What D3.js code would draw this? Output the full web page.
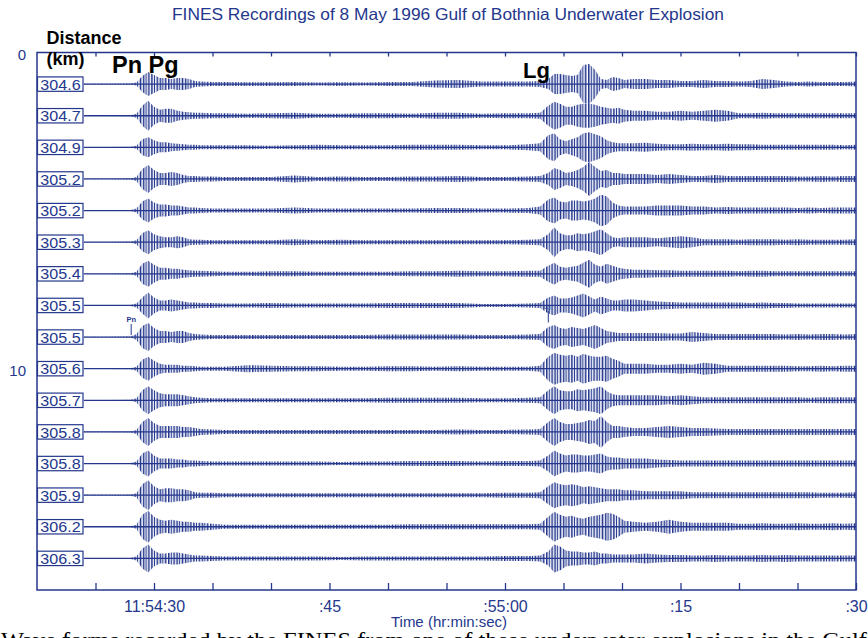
<!DOCTYPE html>
<html><head><meta charset="utf-8">
<script src="https://cdn.jsdelivr.net/npm/d3@7"></script>
<style>html,body{margin:0;padding:0;background:#fff;overflow:hidden;} svg{display:block;}</style>
</head><body>
<svg id="chart" width="868" height="638"></svg>
<script>
// ---------------- DATA ----------------
// epicentral distance (km) of each trace, top to bottom
const distances = ["304.6","304.7","304.9","305.2","305.2","305.3","305.4","305.5",
                   "305.5","305.6","305.7","305.8","305.8","305.9","306.2","306.3"];
// sample times (seconds after 11:54:00) at which the trace amplitude envelope was read
const times = [24,26,28,
  28.5,29,29.5,30,30.5,31,31.5,32,32.5,33,33.5,34,35,
  36,38,40,42,44,46,48,50,52,54,56,58,60,62,
  63,63.7,64.2,64.7,65.2,65.7,66.2,66.7,67.2,67.7,68.2,68.7,69.2,69.7,70.2,
  71,72,73,74,75,76,77,78,79,80,81,82,83,84,85,86,87,88,89,90];
// amplitude envelope (half peak-to-peak, px-equivalent counts) of each trace
const trace01 = [0.3,0.3,0.5, 1.5,8,12,9,6,6,5,6,6,5,3,2.5,2, 2,1.8,1.8,2,1.5,1.8,1.5,2,2,3.5,4,2.5,2.5,2.5, 3,5,10,10,9,8,9,19,20,14,5,4,7,6,4, 5,5,4,4,3,3,4,3,3,2.5,3,5,4,2.5,2,2.5,2,2,2,2.5];
const trace02 = [0.3,0.3,0.5, 2,10,15,9,6,7,7,5,4,3.5,3,3,2.5, 2.5,2,2.5,3,2,2,2.5,2.5,2,3,3,2,2.5,2.5, 3,10,14,12,9,9,11,12,12,11,9,8,7,8,6, 5,5,4,4,5,4,5,6,5,2.5,2.5,3,2.5,2.5,2.5,2.5,2.5,2.5,2.5,2.5];
const trace03 = [0.3,0.3,0.5, 1.5,8,10,7,5,5,4,3.5,3,2.5,2.5,2,2, 2,2,1.5,2,2.5,2,2,2,2.5,2.5,2.5,2,2,3, 4,12,14,8,6,8,10,14,15,13,11,7,5,4,4, 4,4.5,3.5,3,3,3.5,3,3,3.5,3,3,2.5,2.5,2.5,2.5,2.5,2.5,2.5,2,2.5];
const trace04 = [0.3,0.3,0.5, 2,10,14,9,6,6,7,6,4,3,3,2.5,2.5, 2,2,2,3.5,2,2.5,2,2,2.5,2.5,3,2,2,2.5, 3,6,11,9,6,7,9,12,17,12,8,9,6,6,5, 5,5,4,5,4,3,3,4,3,3,3,3,3,3,2.5,2.5,3,2.5,3,3];
const trace05 = [0.3,0.3,0.5, 2,9,12,8,6,6,5,5,4,3,3,2.5,2, 2,2,2,3,2,2,2,2,2,2.5,2.5,2,2,2.5, 4,11,13,9,8,10,10,9,10,12,16,14,8,5,4, 4,4,5,5,5,4,4,3,3.5,3,3,3,3,3,2.5,3,2.5,3,3,3];
const trace06 = [0.3,0.3,0.5, 2,9,12,8,6,5,5,6,5,3,2.5,2.5,2, 2,2,2,3,2,2.5,2,2,2,2,2,2,2,2.5, 3,8,15,9,7,7,9,8,9,11,13,9,5,4,5, 5,5,4,5,6,5,3,3,3,2.5,3,3,3,2.5,3,2.5,2.5,2.5,2.5,3];
const trace07 = [0.3,0.3,0.5, 2,10,13,9,6,6,5,5,4,3.5,3,3,2.5, 2,2,2.5,2.5,2,2,2,2,2.5,2.5,3,2.5,2.5,3, 3,8,11,7,6,7,8,11,14,9,7,10,8,6,5, 4,4,3.5,3.5,3,3,3,3,3,2.5,3,3,2.5,2.5,2.5,2.5,2.5,2.5,2.5,2.5];
const trace08 = [0.3,0.3,0.5, 2,8,13,8,5,5,6,5,4,3,3,2.5,2.5, 2,2,2.5,2,2,2,2,2.5,2.5,2.5,2.5,1.5,1.5,2, 2.5,8,10,7,7,8,10,12,9,6,9,7,5,5,6, 6,5,4,3.5,3,3,3,3,3,3,2.5,3,2.5,2.5,2,2,2,2,2,2];
const trace09 = [0.3,0.3,0.5, 3,11,14,9,6,6,5,6,6,4,3,2.5,2, 2,2,2,2,2,2,2,2.5,2.5,2.5,2.5,2,2,2.5, 3,10,12,9,8,10,9,8,10,12,9,6,5,4,4, 4,4,4,3.5,3.5,5,4,3,3,3,3,3,3,2.5,3,2.5,3,3,2.5,3];
const trace10 = [0.3,0.3,0.5, 2,9,12,8,5,4,4,4,3,3,2.5,2,2, 2,3.5,3,2.5,2.5,2,2,2.5,2.5,2,2.5,2,2,2, 3,12,16,14,13,14,12,15,13,12,12,13,10,8,5, 5,5,4,4,5,4,6,5,3,3,3,3,3,3,2.5,2.5,3,2.5,3,3];
const trace11 = [0.3,0.3,0.5, 2,10,14,10,7,6,6,6,5,4,3,2.5,2, 2,2,2,2,2,2,2,2.5,2.5,2.5,2.5,2,2,2.5, 3,10,14,10,9,9,11,10,11,12,14,9,6,5,5, 5,5,5,4,5,4,3,3,3,3,3,3,3,3,3,2.5,3,3,3,3];
const trace12 = [0.3,0.3,0.5, 2,10,14,9,6,6,6,6,5,5,4,3,2.5, 2,2,2,2,2,2,2,2,2,2,2.5,2,2,2.5, 3,10,14,10,8,8,9,10,12,11,16,10,6,6,5, 4,4,5,6,5,4,4,3.5,3,3,3,3,3,3,3,3,3,3,3,3];
const trace13 = [0.3,0.3,0.5, 2,10,13,8,5,5,5,4,4,3,3,2.5,2, 2,2,2,2,2,1.5,2,2,2.5,2.5,2.5,2,2.5,2.5, 3,8,13,10,8,9,9,8,8,9,10,7,6,6,5, 5,5,4,3.5,3,3,3,3,3,3,3,3,3,3,3,3,3,3,3,3];
const trace14 = [0.3,0.3,0.5, 2,11,15,9,6,7,7,6,6,5,3,2.5,2.5, 2,2,2,2,2,2,2,2,2,2,2,2,2.5,2.5, 3,9,13,11,10,11,10,8,9,8,7,6,6,6,5, 5,4,4,4,4,3,3,3,3,3,3,3,3,3,3,3,2.5,2.5,2.5,3];
const trace15 = [0.3,0.3,0.5, 2,12,16,10,7,6,7,6,5,5,4,4,3, 2,2,2,2,2,2,2,2,2.5,2.5,2.5,2.5,2.5,2.5, 3,10,15,12,10,11,9,8,10,11,12,14,13,10,6, 5,4,5,7,5,4,4,4,4,3,3,3.5,3,3,3.5,3,3,3.5,3,3.5];
const trace16 = [0.3,0.3,0.5, 2,10,14,8,5,5,6,6,5,4,3,3,2.5, 2,2,2,2,2,1.5,2,2,2,2,2,2,2.5,2.5, 3,7,14,12,8,7,7,6,6,7,5,5,4,4,4, 4,5,4,3.5,3.5,3,3,3.5,3,3,3,3.5,3,3.5,3,3,3,3,3,3];
const traces = [trace01,trace02,trace03,trace04,trace05,trace06,trace07,trace08,
                trace09,trace10,trace11,trace12,trace13,trace14,trace15,trace16];
// time axis (seconds after 11:54:00)
const majorTicks = [30, 45, 60, 75, 90];
const majorTickLabels = ["11:54:30", ":45", ":55:00", ":15", ":30"];
const minorTicks = [25, 35, 40, 50, 55, 65, 70, 80, 85];
// distance axis (trace order)
const distanceTicks = [0, 10];
// small phase picks drawn on traces: [label, trace number, time]
const picks = [["Pn", 9, 28.05], ["Lg", 8, 63.7]];

// ---------------- DRAW ----------------
const BLUE = "#24378d";
const svg = d3.select("#chart");
const x = d3.scaleLinear().domain([20, 90]).range([37, 856]);
const y = d3.scaleLinear().domain([0, 17]).range([52.5, 590]);
const amp = d3.scaleLinear().domain([0, 20]).range([0, 20]);

const defs = svg.append("defs");
// irregular vertical hatching used as the texture of the wiggle envelope
const pat = defs.append("pattern").attr("id", "wig").attr("patternUnits", "userSpaceOnUse")
  .attr("width", 8.4).attr("height", 60);
[[0, 1.5], [2.7, 1.1], [5.3, 1.6]].forEach(s =>
  pat.append("rect").attr("x", s[0]).attr("y", 0).attr("width", s[1]).attr("height", 60).attr("fill", BLUE));
defs.append("clipPath").attr("id", "plotclip").append("rect")
  .attr("x", 37).attr("y", 40).attr("width", 819).attr("height", 560);

// title
svg.append("text").attr("x", 448).attr("y", 19.5).attr("text-anchor", "middle")
  .attr("font-family", "Liberation Sans, Arial, sans-serif").attr("font-size", 16.5)
  .attr("fill", BLUE).attr("textLength", 552).attr("lengthAdjust", "spacingAndGlyphs")
  .text("FINES Recordings of 8 May 1996 Gulf of Bothnia Underwater Explosion");

// traces
const g = svg.append("g").attr("clip-path", "url(#plotclip)");
traces.forEach((arr, i) => {
  const cy = y(i + 1);
  const pts = times.map((t, j) => ({ t: t, a: arr[j] }));
  const area = d3.area().x(d => x(d.t)).y0(d => cy + amp(d.a)).y1(d => cy - amp(d.a));
  g.append("path").attr("d", area(pts)).attr("fill", "url(#wig)");
  const line = d3.line().x(d => x(d.t)).y(() => cy);
  g.append("path").attr("d", line(pts)).attr("fill", "none").attr("stroke", BLUE).attr("stroke-width", 1.3);
});

// frame
svg.append("rect").attr("x", x(20)).attr("y", y(0)).attr("width", x(90) - x(20)).attr("height", y(17) - y(0))
  .attr("fill", "none").attr("stroke", BLUE).attr("stroke-width", 1.5);

// bottom axis
const axB = svg.append("g").attr("transform", `translate(0,${y(17)})`)
  .call(d3.axisBottom(x).tickValues(majorTicks).tickSize(-7).tickPadding(11)
        .tickFormat((d, i) => majorTickLabels[i]));
const axBm = svg.append("g").attr("transform", `translate(0,${y(17)})`)
  .call(d3.axisBottom(x).tickValues(minorTicks).tickSize(-7).tickFormat(""));
const axT = svg.append("g").attr("transform", `translate(0,${y(0)})`)
  .call(d3.axisTop(x).tickValues(majorTicks.concat(minorTicks)).tickSize(-4).tickFormat(""));
const axL = svg.append("g").attr("transform", `translate(${x(20)},0)`)
  .call(d3.axisLeft(y).tickValues(distanceTicks).tickSize(0).tickPadding(11));
[axB, axBm, axT, axL].forEach(a => {
  a.select(".domain").remove();
  a.selectAll("line").attr("stroke", BLUE).attr("stroke-width", 1.3);
  a.selectAll("text").attr("fill", BLUE).attr("font-family", "Liberation Sans, Arial, sans-serif");
});
axB.selectAll("text").attr("font-size", 16);
axL.selectAll("text").attr("font-size", 15).attr("dy", "0.45em");

// axis title
svg.append("text").attr("x", 449).attr("y", 626.5).attr("text-anchor", "middle")
  .attr("font-family", "Liberation Sans, Arial, sans-serif").attr("font-size", 15)
  .attr("fill", BLUE).text("Time (hr:min:sec)");

// distance label boxes
distances.forEach((d, i) => {
  const cy = y(i + 1);
  svg.append("rect").attr("x", 37.5).attr("y", cy - 7.2).attr("width", 45.5).attr("height", 14.4)
    .attr("fill", "#fff").attr("stroke", BLUE).attr("stroke-width", 1.2);
  svg.append("text").attr("x", 40.3).attr("y", cy + 5.6)
    .attr("font-family", "Liberation Sans, Arial, sans-serif").attr("font-size", 15)
    .attr("fill", BLUE).attr("textLength", 40.3).attr("lengthAdjust", "spacingAndGlyphs").text(d);
});

// small phase picks
picks.forEach(p => {
  const px = x(p[2]), cy = y(p[1]);
  if (p[0] === "Pn") {
    svg.append("line").attr("x1", px).attr("x2", px).attr("y1", cy - 13).attr("y2", cy - 2)
      .attr("stroke", BLUE).attr("stroke-width", 1);
    svg.append("text").attr("x", px).attr("y", cy - 15.5).attr("text-anchor", "middle")
      .attr("font-family", "Liberation Sans, Arial, sans-serif").attr("font-size", 7.5).attr("font-weight", "bold")
      .attr("fill", BLUE).text(p[0]);
  } else {
    svg.append("line").attr("x1", px).attr("x2", px).attr("y1", cy + 5).attr("y2", cy + 17)
      .attr("stroke", BLUE).attr("stroke-width", 1);
    svg.append("text").attr("x", px - 1).attr("y", cy + 4).attr("text-anchor", "middle")
      .attr("font-family", "Liberation Sans, Arial, sans-serif").attr("font-size", 6)
      .attr("fill", BLUE).text(p[0]);
  }
});

// black annotations
const black = (txt, xx, yy, fs) => svg.append("text").attr("x", xx).attr("y", yy)
  .attr("font-family", "Liberation Sans, Arial, sans-serif").attr("font-weight", "bold")
  .attr("font-size", fs).attr("fill", "#000").text(txt);
black("Distance", 46.5, 44, 18);
black("(km)", 46.5, 64.5, 18);
black("Pn Pg", 112, 72.5, 23.5);
black("Lg", 523, 77.5, 22);

// cut-off caption line below the figure (only its top shows, as in the source page)
svg.append("text").attr("x", 1).attr("y", 647)
  .attr("font-family", "Liberation Serif, Times New Roman, serif").attr("font-size", 21)
  .attr("fill", "#000").attr("textLength", 866).attr("lengthAdjust", "spacingAndGlyphs")
  .text("Wave forms recorded by the FINES from one of these underwater explosions in the Gulf");
</script>
</body></html>
